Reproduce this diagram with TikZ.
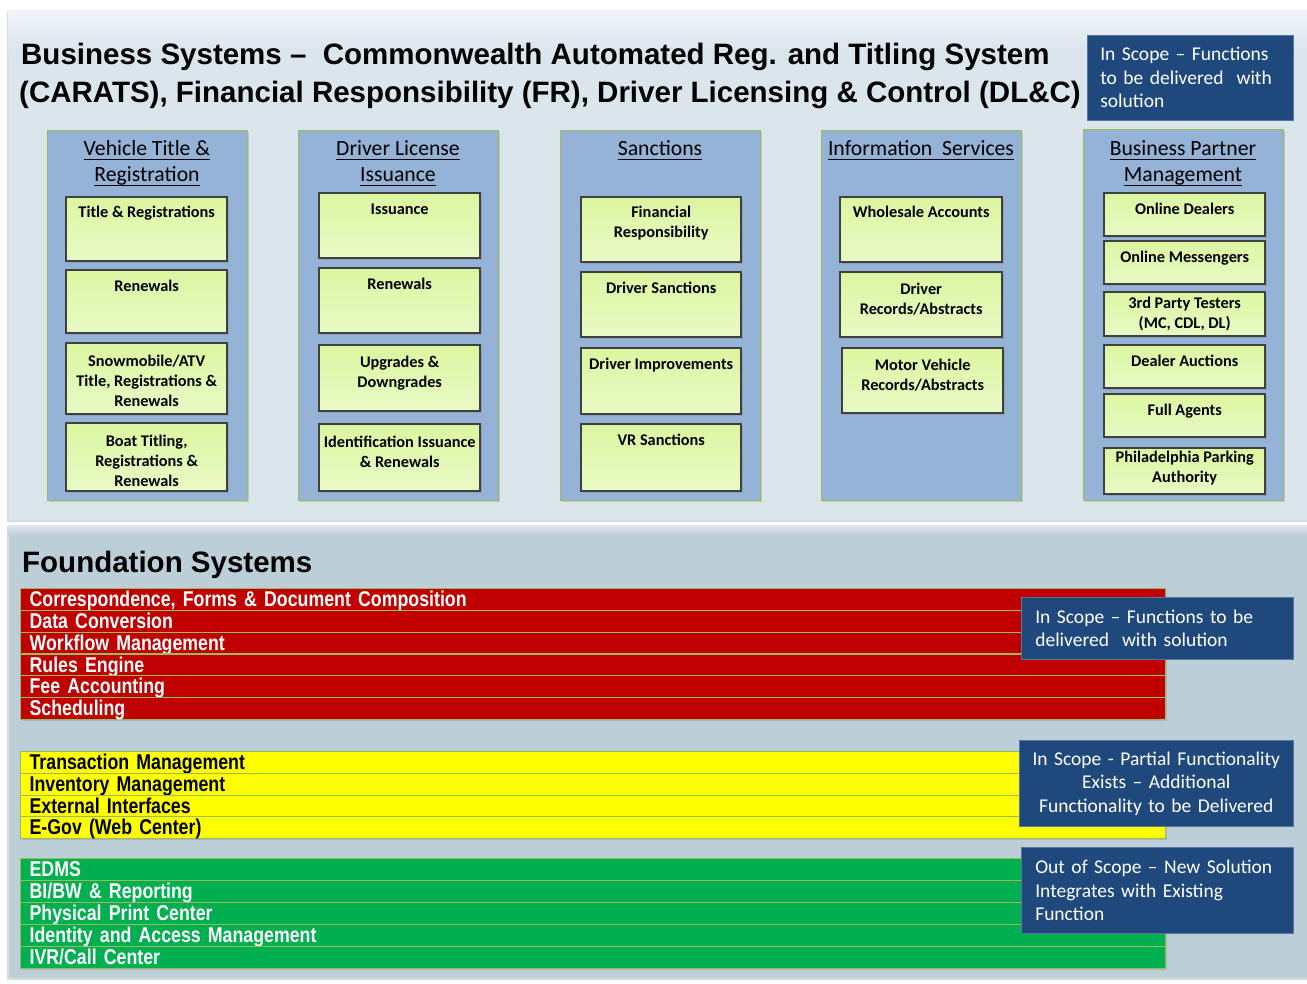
\documentclass[tikz,border=0pt]{standalone}
\usepackage{fontspec}
\setmainfont{Carlito}
\newfontfamily\headfont{Liberation Sans}
\newfontfamily\barfont{Liberation Sans}[FakeStretch=0.83, WordSpace=0.75]
\usetikzlibrary{shadows}

\definecolor{panelTop}{HTML}{DBE5EC}
\definecolor{panelTopHi}{HTML}{F1F5F8}
\definecolor{panelBase}{HTML}{BCCFD9}
\definecolor{panelBaseHi}{HTML}{DCE6EC}
\definecolor{groupFill}{HTML}{95B3D7}
\definecolor{groupEdge}{HTML}{9BBB59}
\definecolor{itemTop}{HTML}{DBF6A0}
\definecolor{itemBottom}{HTML}{E8FAC6}
\definecolor{itemEdge}{HTML}{404040}
\definecolor{scopeBlue}{HTML}{1F497D}
\definecolor{barRed}{HTML}{C00000}
\definecolor{barYellow}{HTML}{FFFF00}
\definecolor{barGreen}{HTML}{00B050}
\definecolor{barEdge}{HTML}{9BBB59}

% fixed-depth underline for the group headings
\newcommand\ulin[1]{\setbox0\hbox{#1}\rlap{\rule[-4pt]{\wd0}{1.4pt}}\box0}
% item box: name, x, y, width, height, first baseline, text
\newcommand\itembox[7]{\node[item] (#1) at (#2,#3)
  {\parbox[t][#5pt][t]{#4pt}{\centering\rule{0pt}{#6pt}#7}};}

\tikzset{
  panel/.style={anchor=north west, inner sep=0pt, outer sep=0pt,
    draw=white!75!gray, line width=0.6pt,
    drop shadow={shadow xshift=-1.5pt, shadow yshift=-2pt, opacity=0.3}},
  band/.style={anchor=north west, inner sep=0pt, outer sep=0pt},
  group/.style={anchor=north west, inner sep=0pt, fill=groupFill,
    draw=groupEdge, line width=1.3pt, minimum width=200pt,
    drop shadow={shadow xshift=1.5pt, shadow yshift=-1.5pt, opacity=0.3}},
  hdr/.style={anchor=base, inner sep=0pt, font=\fontsize{21.7}{26}\selectfont},
  item/.style={anchor=north west, inner sep=0pt, top color=itemTop,
    bottom color=itemBottom, draw=itemEdge, line width=2.4pt,
    font=\bfseries\fontsize{16.3}{20}\selectfont,
    drop shadow={shadow xshift=1.6pt, shadow yshift=-1.6pt, opacity=0.35}},
  scope/.style={anchor=north west, fill=scopeBlue, text=white,
    draw=scopeBlue!75!white, line width=0.6pt, inner ysep=0pt,
    font=\fontsize{19.5}{23.5}\selectfont},
  block/.style={anchor=north west, inner sep=0pt, minimum width=1145pt,
    drop shadow={shadow xshift=1.8pt, shadow yshift=-1.8pt, opacity=0.3}},
  bar/.style={anchor=north west, minimum width=1145pt, minimum height=21.8pt,
    inner xsep=9pt, inner ysep=0pt, text width=1127pt, align=left,
    text height=16pt, text depth=1.7pt, draw=barEdge, line width=1.2pt,
    font=\barfont\bfseries\fontsize{21.4}{22}\selectfont},
  redbar/.style={bar, fill=barRed, text=white},
  yellowbar/.style={bar, fill=barYellow, text=black},
  greenbar/.style={bar, fill=barGreen, text=white},
  title/.style={anchor=base west, inner sep=0pt,
    font=\headfont\bfseries\fontsize{29.5}{34}\selectfont}
}

\begin{document}
\begin{tikzpicture}[x=1pt,y=-1pt]
\useasboundingbox (0,0) rectangle (1307,984);
\clip (0,0) rectangle (1307,984);
\fill[white] (0,0) rectangle (1307,984);

% ---------- business systems panel ----------
\node[panel, fill=panelTop, minimum width=1320pt, minimum height=510pt] (bizpanel) at (8,10) {};
\node[band, top color=panelTopHi, bottom color=panelTop, minimum width=1318pt, minimum height=40pt] (bizglow) at (8.5,10.5) {};

\node[title] (title1) at (21,65) {Business Systems –~ Commonwealth Automated Reg. and Titling System};
\node[title] (title2) at (19,103) {(CARATS), Financial Responsibility (FR), Driver Licensing \& Control (DL\&C)};

\node[scope, minimum width=206pt, minimum height=85pt, inner xsep=13pt,
      text width=180pt, align=left] (scopetop) at (1087,35)
  {In Scope – Functions\\to be delivered~ with\\solution};

% group columns
\node[group, minimum height=370pt] (vtr) at (47,130) {};
\node[group, minimum height=370pt] (dli) at (298,130) {};
\node[group, minimum height=370pt] (san) at (560,130) {};
\node[group, minimum height=370pt] (inf) at (821,130) {};
\node[group, minimum height=371pt] (bpm) at (1083,129) {};

\node[hdr] (vtrh1) at (147,156) {\ulin{Vehicle Title \&}};
\node[hdr] (vtrh2) at (147,182) {\ulin{Registration}};
\node[hdr] (dlih1) at (398,156) {\ulin{Driver License}};
\node[hdr] (dlih2) at (398,182) {\ulin{Issuance}};
\node[hdr] (sanh) at (660,156) {\ulin{Sanctions}};
\node[hdr] (infh) at (921,156) {\ulin{Information~ Services}};
\node[hdr] (bpmh1) at (1183,156) {\ulin{Business Partner}};
\node[hdr] (bpmh2) at (1183,182) {\ulin{Management}};

% vehicle title & registration
\itembox{vtr1}{65}{196}{161}{64}{20.7}{Title \& Registrations}
\itembox{vtr2}{65}{269}{161}{63}{21.7}{Renewals}
\itembox{vtr3}{65}{342}{161}{71}{23}{Snowmobile/ATV\\Title, Registrations \&\\Renewals}
\itembox{vtr4}{65}{422}{161}{68}{23}{Boat Titling,\\Registrations \&\\Renewals}

% driver license issuance
\itembox{dli1}{318}{192}{161}{65}{21.3}{Issuance}
\itembox{dli2}{318}{267}{161}{65}{21.5}{Renewals}
\itembox{dli3}{318}{344}{161}{66}{22.7}{Upgrades \&\\Downgrades}
\itembox{dli4}{318}{423}{161}{67}{23}{Identification Issuance\\\& Renewals}

% sanctions
\itembox{san1}{580}{196}{160}{65}{20.7}{Financial\\Responsibility}
\itembox{san2}{580}{271}{160}{65}{21.5}{Driver Sanctions}
\itembox{san3}{580}{347}{160}{66}{21.5}{Driver Improvements}
\itembox{san4}{580}{423}{160}{67}{21.5}{VR Sanctions}

% information services
\itembox{inf1}{839}{196}{162}{65}{20.7}{Wholesale Accounts}
\itembox{inf2}{839}{271}{162}{65}{22}{Driver\\Records/Abstracts}
\itembox{inf3}{841}{347}{161}{65}{22}{Motor Vehicle\\Records/Abstracts}

% business partner management
\itembox{bpm1}{1103}{192}{161}{43}{21.5}{Online Dealers}
\itembox{bpm2}{1103}{240}{161}{43}{21.5}{Online Messengers}
\itembox{bpm3}{1103}{291}{161}{44}{16}{3rd Party Testers\\(MC, CDL, DL)}
\itembox{bpm4}{1103}{344}{161}{43}{21.5}{Dealer Auctions}
\itembox{bpm5}{1103}{393}{161}{43}{21.5}{Full Agents}
\itembox{bpm6}{1103}{447}{161}{46}{14.7}{Philadelphia Parking\\Authority}

% ---------- foundation systems panel ----------
\node[panel, fill=panelBase, minimum width=1320pt, minimum height=453pt] (fndpanel) at (8,525) {};
\node[band, top color=panelBaseHi, bottom color=panelBase, minimum width=1318pt, minimum height=10pt] (fndglow) at (8.5,525.5) {};

\node[anchor=base west, inner sep=0pt, font=\headfont\bfseries\fontsize{29.5}{34}\selectfont]
  (fndtitle) at (22,572) {Foundation Systems};

% in scope
\node[block, fill=barRed, minimum height=130.8pt] (redblock) at (20,588) {};
\node[redbar] (red1) at (20,588.0) {Correspondence, Forms \& Document Composition};
\node[redbar] (red2) at (20,609.8) {Data Conversion};
\node[redbar] (red3) at (20,631.6) {Workflow Management};
\node[redbar] (red4) at (20,653.4) {Rules Engine};
\node[redbar] (red5) at (20,675.2) {Fee Accounting};
\node[redbar] (red6) at (20,697.0) {Scheduling};

% partial functionality
\node[block, fill=barYellow, minimum height=87pt] (yellowblock) at (20,751) {};
\node[yellowbar] (yel1) at (20,751.0) {Transaction Management};
\node[yellowbar] (yel2) at (20,772.75) {Inventory Management};
\node[yellowbar] (yel3) at (20,794.5) {External Interfaces};
\node[yellowbar] (yel4) at (20,816.25) {E-Gov (Web Center)};

% out of scope
\node[block, fill=barGreen, minimum height=110pt] (greenblock) at (20,858) {};
\node[greenbar] (grn1) at (20,858) {EDMS};
\node[greenbar] (grn2) at (20,880) {BI/BW \& Reporting};
\node[greenbar] (grn3) at (20,902) {Physical Print Center};
\node[greenbar] (grn4) at (20,924) {Identity and Access Management};
\node[greenbar] (grn5) at (20,946) {IVR/Call Center};

% legends
\node[scope, minimum width=272pt, minimum height=62pt, inner xsep=14pt,
      text width=244pt, align=left] (scopered) at (1021,597)
  {In Scope – Functions to be\\delivered~ with solution};
\node[scope, minimum width=274pt, minimum height=86pt, inner xsep=8pt,
      text width=258pt, align=center] (scopeyellow) at (1019,740)
  {In Scope - Partial Functionality\\Exists – Additional\\Functionality to be Delivered};
\node[scope, minimum width=272pt, minimum height=86pt, inner xsep=14pt,
      text width=244pt, align=left] (scopegreen) at (1021,847)
  {Out of Scope – New Solution\\Integrates with Existing\\Function};
\end{tikzpicture}
\end{document}
